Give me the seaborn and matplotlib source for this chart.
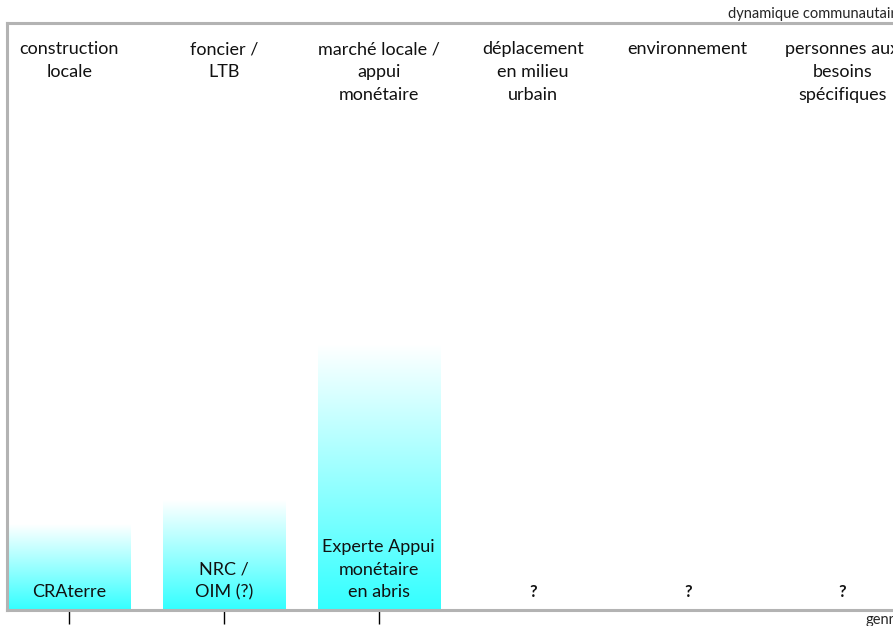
import numpy as np
import pandas as pd
import matplotlib
matplotlib.use('Agg')
import matplotlib.pyplot as plt
import seaborn as sns
from matplotlib.colors import LinearSegmentedColormap

# data
themes = ['construction\nlocale', 'foncier /\nLTB', 'marché locale /\nappui\nmonétaire',
          'déplacement\nen milieu\nurbain', 'environnement', 'personnes aux\nbesoins\nspécifiques']
niveau = [14.5, 18.7, 45.3, 0, 0, 0]
acteurs = ['CRAterre', 'NRC /\nOIM (?)', 'Experte Appui\nmonétaire\nen abris', '?', '?', '?']

df = pd.DataFrame({'theme': themes, 'niveau': niveau})

sns.set_style('white')
plt.rcParams['font.family'] = ['Lato', 'DejaVu Sans']

fig = plt.figure(figsize=(8.93, 6.26), dpi=100)
ax = fig.add_axes([6.5 / 893, 16 / 626, 940 / 893, 587 / 626])

sns.barplot(data=df, x='theme', y='niveau', ax=ax, width=0.79, color='#33ffff')

# gradient fill: cyan at the bottom, white at the top
cmap = LinearSegmentedColormap.from_list('cy', ['#33ffff', '#ffffff'])
grad = np.linspace(0, 1, 256).reshape(-1, 1)
for p in ax.patches:
    x0, y0 = p.get_x(), p.get_y()
    w, h = p.get_width(), p.get_height()
    if h <= 0:
        continue
    p.set_facecolor('none')
    p.set_edgecolor('none')
    ax.imshow(grad, cmap=cmap, aspect='auto', origin='lower',
              extent=[x0, x0 + w, y0, y0 + h], zorder=1)

ax.set_xlim(-(69 - 6.5) / 153.5, (940 - 69) / 153.5)
ax.set_ylim(0, 100)

for i, t in enumerate(themes):
    ax.text(i, 96.9, t, ha='center', va='top', fontsize=13, linespacing=1.55, color='#111111')

for i, a in enumerate(acteurs):
    if a == '?':
        ax.text(i, 1.7, a, ha='center', va='bottom', fontsize=12, fontweight='bold', color='#111111')
    else:
        ax.text(i, 1.7, a, ha='center', va='bottom', fontsize=13, linespacing=1.5, color='#111111')

for s in ['left', 'top', 'right', 'bottom']:
    ax.spines[s].set_color('#b3b3b3')
    ax.spines[s].set_linewidth(2.2)
    ax.spines[s].set_visible(True)

ax.set_xticks([0, 1, 2])
ax.set_xticklabels([])
ax.set_yticks([])
ax.tick_params(axis='x', bottom=True, direction='out', length=10, width=1, color='black')
ax.set_xlabel('')
ax.set_ylabel('')

fig.text(728 / 893, 1 - 14 / 626, 'dynamique communautaire', fontsize=10.5, va='center', ha='left')
fig.text(866 / 893, 1 - 620 / 626, 'genre', fontsize=10.5, va='center', ha='left')

fig.savefig('out.png', dpi=100)
